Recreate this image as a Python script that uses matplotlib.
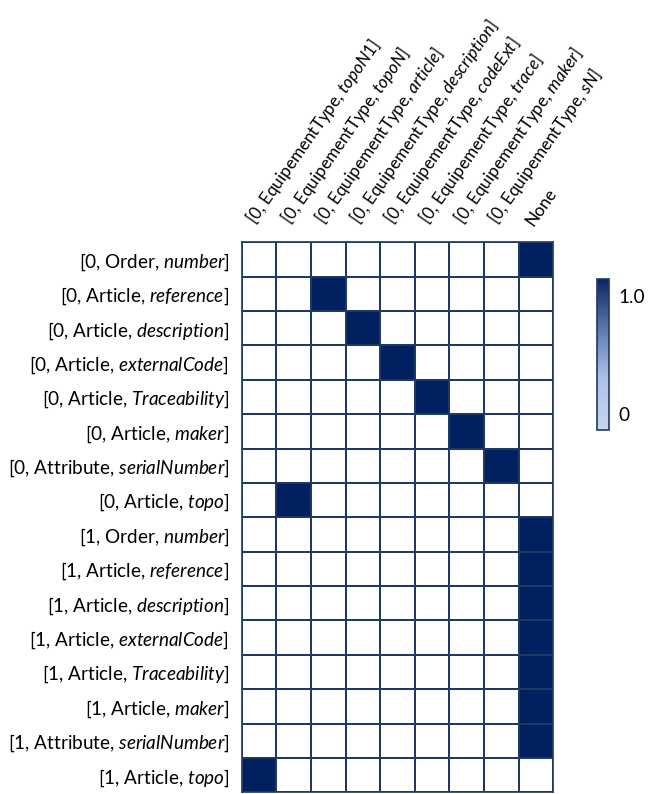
import numpy as np
import matplotlib
matplotlib.use('Agg')
import matplotlib.pyplot as plt
from matplotlib.colors import ListedColormap, LinearSegmentedColormap, Normalize
from matplotlib.cm import ScalarMappable

plt.rcParams['font.family'] = ['Lato', 'DejaVu Sans']
plt.rcParams['mathtext.fontset'] = 'custom'
plt.rcParams['mathtext.rm'] = 'Lato'
plt.rcParams['mathtext.it'] = 'Lato:italic'

# source fields (rows): prefix, entity, attribute name
row_prefix = ['0', '0', '0', '0', '0', '0', '0', '0',
              '1', '1', '1', '1', '1', '1', '1', '1']
row_entity = ['Order', 'Article', 'Article', 'Article', 'Article', 'Article', 'Attribute', 'Article',
              'Order', 'Article', 'Article', 'Article', 'Article', 'Article', 'Attribute', 'Article']
row_attr = ['number', 'reference', 'description', 'externalCode', 'Traceability', 'maker',
            'serialNumber', 'topo',
            'number', 'reference', 'description', 'externalCode', 'Traceability', 'maker',
            'serialNumber', 'topo']

# target fields (columns)
col_attr = ['topoN1', 'topoN', 'article', 'description', 'codeExt', 'trace', 'maker', 'sN']

# index of the matched column for every row (8 = None)
match = [8, 2, 3, 4, 5, 6, 7, 1, 8, 8, 8, 8, 8, 8, 8, 0]

n_rows = len(row_attr)
n_cols = len(col_attr) + 1
mat = np.zeros((n_rows, n_cols))
for i, j in enumerate(match):
    mat[i, j] = 1.0

row_labels = ['[%s, %s, $\\mathit{%s}$]' % (p, e, a)
              for p, e, a in zip(row_prefix, row_entity, row_attr)]
col_labels = ['[0, EquipementType, $\\mathit{%s}$]' % a for a in col_attr] + ['None']

navy = '#002060'
edge = '#1f3864'
fs = 13.6

fig = plt.figure(figsize=(6.57, 7.94), dpi=100)
ax = fig.add_axes([0.368, 0.002, 0.474, 0.693])
ax.pcolormesh(mat, cmap=ListedColormap(['white', navy]), vmin=0, vmax=1,
              edgecolors=edge, linewidth=1.1)
ax.set_xlim(0, n_cols)
ax.set_ylim(n_rows, 0)
for s in ax.spines.values():
    s.set_color(edge)
    s.set_linewidth(1.2)

ax.set_yticks(np.arange(n_rows) + 0.5)
ax.set_yticklabels(row_labels, fontsize=fs)
ax.xaxis.tick_top()
ax.set_xticks(np.arange(n_cols) + 0.5)
ax.set_xticklabels(col_labels, fontsize=12.3, rotation=55, ha='left',
                   rotation_mode='anchor')
ax.tick_params(axis='y', length=0, pad=9)
ax.tick_params(axis='x', length=0, pad=10)

# colour scale
cax = fig.add_axes([0.909, 0.4584, 0.018, 0.19])
cmap_bar = LinearSegmentedColormap.from_list(
    'blues', [(0, '#c8d5ee'), (0.35, '#adc0e6'), (0.7, '#5572a8'), (1, '#0b2561')])
cb = fig.colorbar(ScalarMappable(Normalize(-0.14, 1.14), cmap_bar), cax=cax)
cb.set_ticks([0, 1.0])
cb.set_ticklabels(['0', '1.0'])
cb.ax.tick_params(length=0, labelsize=fs, pad=7)
cb.outline.set_edgecolor(edge)
cb.outline.set_linewidth(1.2)

fig.savefig('out.png', dpi=100)
